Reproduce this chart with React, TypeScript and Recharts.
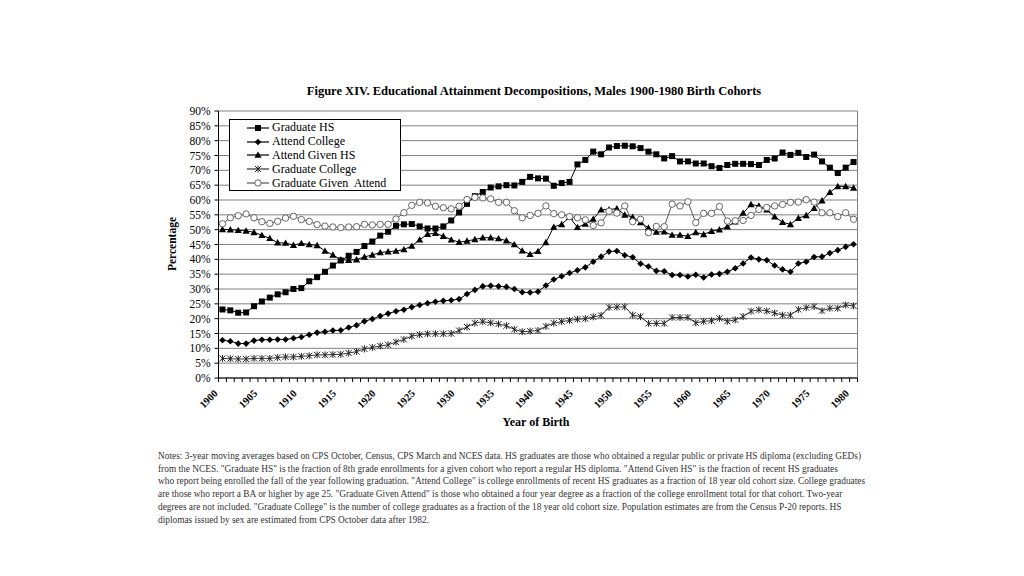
import React from 'react';
import { LineChart, Line, XAxis, YAxis, CartesianGrid, Legend, ReferenceLine } from 'recharts';

const FONT = '"Liberation Serif", "Times New Roman", serif';

const years = Array.from({ length: 81 }, (_, i) => 1900 + i);

const graduateHS = [
  23.1, 22.8, 22.0, 22.1, 24.2, 25.8, 27.1, 28.2, 28.9, 30.0, 30.3, 32.6, 34.0, 35.8, 37.9, 39.6, 41.2, 42.5, 44.5, 46.0,
  48.0, 49.3, 51.3, 51.8, 51.9, 51.1, 50.4, 50.4, 51.1, 53.1, 55.8, 58.7, 61.3, 62.7, 64.2, 64.6, 65.0, 64.9, 66.1, 67.8,
  67.3, 67.2, 64.8, 65.7, 66.1, 72.0, 73.5, 76.3, 75.4, 77.7, 78.2, 78.3, 78.1, 77.5, 76.3, 75.4, 74.0, 74.8, 73.0, 73.0,
  72.3, 72.3, 71.4, 70.8, 71.8, 72.2, 72.2, 72.1, 71.8, 73.5, 74.0, 76.0, 75.2, 75.9, 74.5, 75.3, 73.0, 70.9, 69.1, 70.9, 72.8,
];

const attendCollege = [
  12.7, 12.4, 11.6, 11.6, 12.6, 12.9, 12.9, 13.0, 13.0, 13.4, 13.8, 14.6, 15.3, 15.6, 16.0, 16.1, 17.0, 17.8, 19.1, 19.9,
  20.9, 21.7, 22.5, 23.0, 23.9, 24.6, 25.2, 25.7, 26.0, 26.2, 26.6, 28.3, 29.7, 30.9, 31.1, 30.9, 30.7, 30.0, 28.9, 28.8,
  29.1, 31.2, 33.2, 34.3, 35.4, 36.3, 37.3, 39.2, 40.9, 42.6, 42.8, 41.4, 40.7, 38.5, 37.6, 36.1, 36.0, 34.7, 34.7, 34.2,
  34.8, 33.9, 34.9, 35.1, 35.8, 37.0, 38.6, 40.6, 40.0, 39.7, 37.9, 36.6, 35.8, 38.6, 39.2, 40.8, 40.9, 42.1, 43.1, 44.2, 45.1,
];

const attendGivenHS = [
  50.1, 50.0, 49.8, 49.6, 49.1, 48.1, 47.1, 45.6, 45.5, 44.8, 45.4, 45.0, 44.7, 42.8, 41.5, 39.9, 39.7, 39.9, 40.8, 41.5,
  42.3, 42.6, 42.8, 43.3, 44.5, 46.6, 48.5, 48.8, 47.8, 46.6, 45.8, 46.2, 46.7, 47.3, 47.3, 47.0, 46.3, 45.0, 42.9, 41.7,
  42.7, 45.7, 50.9, 51.8, 54.2, 50.8, 51.9, 53.6, 56.7, 56.8, 57.1, 55.0, 54.2, 52.4, 50.6, 49.2, 49.3, 48.2, 48.2, 47.8,
  49.1, 48.4, 49.5, 50.0, 51.0, 52.7, 55.6, 58.5, 58.0, 56.7, 54.4, 52.5, 51.8, 53.9, 54.8, 57.2, 59.8, 62.6, 64.6, 64.6, 64.1,
];

const graduateCollege = [
  6.6, 6.5, 6.4, 6.4, 6.6, 6.6, 6.6, 6.9, 7.1, 7.1, 7.3, 7.5, 7.8, 7.8, 7.9, 8.0, 8.4, 8.9, 9.8, 10.3,
  10.8, 11.2, 12.1, 13.0, 14.1, 14.6, 14.9, 14.9, 14.9, 15.0, 16.0, 17.2, 18.5, 19.0, 18.6, 18.2, 17.6, 16.4, 15.6, 15.8,
  16.0, 17.4, 18.5, 19.0, 19.4, 19.8, 20.0, 20.6, 21.1, 23.8, 23.9, 24.0, 21.2, 20.7, 18.4, 18.4, 18.4, 20.4, 20.4, 20.4,
  18.6, 19.1, 19.3, 20.1, 19.1, 19.6, 20.7, 22.5, 23.0, 22.6, 21.9, 21.2, 21.2, 23.1, 23.7, 24.1, 22.7, 23.5, 23.5, 24.6, 24.3,
];

const graduateGivenAttend = [
  52.0, 54.0, 54.7, 55.3, 54.0, 52.7, 52.1, 52.8, 53.9, 54.5, 53.4, 52.8, 51.7, 51.2, 50.9, 50.7, 50.9, 51.0, 51.8, 51.6,
  51.8, 51.8, 53.6, 55.7, 58.2, 59.2, 59.0, 57.9, 57.4, 57.0, 57.9, 60.2, 60.9, 60.7, 60.4, 59.2, 59.2, 56.4, 54.0, 54.8,
  55.5, 58.0, 55.4, 55.0, 54.4, 54.0, 53.3, 51.4, 52.3, 56.2, 55.6, 58.0, 52.7, 53.5, 49.0, 51.1, 51.0, 58.6, 58.0, 59.4,
  52.4, 55.5, 55.5, 57.8, 52.9, 53.0, 53.1, 54.8, 56.8, 57.5, 58.0, 58.5, 59.2, 59.3, 60.1, 59.3, 55.7, 55.7, 54.4, 55.7, 53.5,
];

const yTicks = [0, 5, 10, 15, 20, 25, 30, 35, 40, 45, 50, 55, 60, 65, 70, 75, 80, 85, 90];
// tick marks sit between the years, Excel style
const xBoundaries = [...years.map((y) => y - 0.5), 1980.5];

const notes = [
  'Notes: 3-year moving averages based on CPS October, Census, CPS March and NCES data. HS graduates are those who obtained a regular public or private HS diploma (excluding GEDs)',
  'from the NCES. "Graduate HS" is the fraction of 8th grade enrollments for a given cohort who report a regular HS diploma. "Attend Given HS" is the fraction of recent HS graduates',
  'who report being enrolled the fall of the year following graduation. "Attend College" is college enrollments of recent HS graduates as a fraction of 18 year old cohort size. College graduates',
  'are those who report a BA or higher by age 25. "Graduate Given Attend" is those who obtained a four year degree as a fraction of the college enrollment total for that cohort. Two-year',
  'degrees are not included. "Graduate College" is the number of college graduates as a fraction of the 18 year old cohort size. Population estimates are from the Census P-20 reports. HS',
  'diplomas issued by sex are estimated from CPS October data after 1982.',
];

const data = years.map((year, i) => ({
  year,
  gradHS: graduateHS[i],
  attCol: attendCollege[i],
  attGivenHS: attendGivenHS[i],
  gradCol: graduateCollege[i],
  gradGivenAtt: graduateGivenAttend[i],
}));

type MarkerProps = { cx?: number; cy?: number; index?: number };

const Square = ({ cx = 0, cy = 0 }: MarkerProps) => <rect x={cx - 3} y={cy - 3} width={6} height={6} fill="#000" />;
const Diamond = ({ cx = 0, cy = 0 }: MarkerProps) => (
  <polygon points={`${cx},${cy - 3.3} ${cx + 3.3},${cy} ${cx},${cy + 3.3} ${cx - 3.3},${cy}`} fill="#000" />
);
const Triangle = ({ cx = 0, cy = 0 }: MarkerProps) => (
  <polygon points={`${cx},${cy - 3.6} ${cx + 3.6},${cy + 2.8} ${cx - 3.6},${cy + 2.8}`} fill="#000" />
);
const Star = ({ cx = 0, cy = 0 }: MarkerProps) => (
  <g stroke="#222" strokeWidth={1}>
    <line x1={cx - 3} y1={cy - 3} x2={cx + 3} y2={cy + 3} />
    <line x1={cx - 3} y1={cy + 3} x2={cx + 3} y2={cy - 3} />
    <line x1={cx} y1={cy - 3.5} x2={cx} y2={cy + 3.5} />
  </g>
);
const Circle = ({ cx = 0, cy = 0 }: MarkerProps) => <circle cx={cx} cy={cy} r={3.2} fill="#fff" stroke="#666" strokeWidth={1} />;

const dotOf = (Comp: React.FC<MarkerProps>) => (p: MarkerProps) => <Comp key={p.index} cx={p.cx} cy={p.cy} />;

const seriesDefs = [
  { key: 'gradHS', name: 'Graduate HS', color: '#000', Marker: Square },
  { key: 'attCol', name: 'Attend College', color: '#000', Marker: Diamond },
  { key: 'attGivenHS', name: 'Attend Given HS', color: '#000', Marker: Triangle },
  { key: 'gradCol', name: 'Graduate College', color: '#333', Marker: Star },
  { key: 'gradGivenAtt', name: 'Graduate Given  Attend', color: '#555', Marker: Circle },
];

const XTick = (props: any) => {
  const { x, y, payload } = props;
  const yr = payload.value + 0.5;
  if (yr % 5 !== 0) return null;
  return (
    <text
      x={x}
      y={y + 10}
      transform={`rotate(-45 ${x} ${y + 10})`}
      textAnchor="end"
      fontFamily={FONT}
      fontWeight="bold"
      fontSize={10.5}
      fill="#000"
    >
      {yr}
    </text>
  );
};

const LegendBox = () => (
  <div
    style={{
      width: 170,
      height: 69,
      border: '1px solid #000',
      background: '#fff',
      fontFamily: FONT,
      fontSize: 12,
      color: '#000',
      paddingTop: 1,
      boxSizing: 'content-box',
    }}
  >
    {seriesDefs.map((s) => (
      <div key={s.key} style={{ display: 'flex', alignItems: 'center', height: 13.8, whiteSpace: 'pre' }}>
        <svg width={40} height={10} style={{ flex: 'none', marginLeft: 1 }}>
          <line x1={16} y1={5} x2={38} y2={5} stroke={s.color} strokeWidth={1.2} />
          <s.Marker cx={27} cy={5} />
        </svg>
        <span style={{ marginLeft: 1, lineHeight: '13px' }}>{s.name}</span>
      </div>
    ))}
  </div>
);

export default function App() {
  return (
    <div style={{ position: 'absolute', left: 0, top: 0, width: 1024, height: 576, background: '#fff', fontFamily: FONT }}>
      <LineChart
        width={1024}
        height={576}
        data={data}
        margin={{ top: 111, right: 166.5, left: 158.5, bottom: 158 }}
      >
        <CartesianGrid vertical={false} stroke="#808080" strokeWidth={1} />
        <XAxis
          dataKey="year"
          type="number"
          domain={[1899.5, 1980.5]}
          ticks={xBoundaries}
          interval={0}
          tick={<XTick />}
          tickSize={4}
          tickMargin={2}
          height={40}
          axisLine={{ stroke: '#000' }}
          tickLine={{ stroke: '#000' }}
        />
        <YAxis
          domain={[0, 90]}
          ticks={yTicks}
          interval={0}
          width={60}
          tickFormatter={(v: number) => `${v}%`}
          tick={{ fontFamily: FONT, fontSize: 11.5, fill: '#000' }}
          tickSize={4}
          tickMargin={4}
          axisLine={{ stroke: '#000' }}
          tickLine={{ stroke: '#000' }}
        />
        <ReferenceLine x={1980.5} stroke="#808080" />
        <Legend
          layout="vertical"
          align="center"
          verticalAlign="middle"
          content={() => <LegendBox />}
          wrapperStyle={{ left: 229, top: 119, width: 172 }}
        />
        {seriesDefs.map((s) => (
          <Line
            key={s.key}
            type="linear"
            dataKey={s.key}
            name={s.name}
            stroke={s.color}
            strokeWidth={1}
            dot={dotOf(s.Marker)}
            activeDot={false}
            isAnimationActive={false}
          />
        ))}
      </LineChart>

      <div
        style={{
          position: 'absolute', left: 234, width: 600, top: 84, textAlign: 'center',
          fontWeight: 'bold', fontSize: 12.5, color: '#000',
        }}
      >
        Figure XIV. Educational Attainment Decompositions, Males 1900-1980 Birth Cohorts
      </div>
      <div
        style={{
          position: 'absolute', left: 172 - 50, top: 244 - 8, width: 100, height: 16, lineHeight: '16px',
          textAlign: 'center', transform: 'rotate(-90deg)', fontWeight: 'bold', fontSize: 11.5, color: '#000',
        }}
      >
        Percentage
      </div>
      <div
        style={{
          position: 'absolute', left: 436, width: 200, top: 415, textAlign: 'center',
          fontWeight: 'bold', fontSize: 12, color: '#000',
        }}
      >
        Year of Birth
      </div>
      <div
        style={{
          position: 'absolute', left: 158, top: 450, fontSize: 9.35, lineHeight: '12.7px',
          color: '#333', whiteSpace: 'pre',
        }}
      >
        {notes.map((n, i) => (
          <div key={i}>{n}</div>
        ))}
      </div>
    </div>
  );
}
